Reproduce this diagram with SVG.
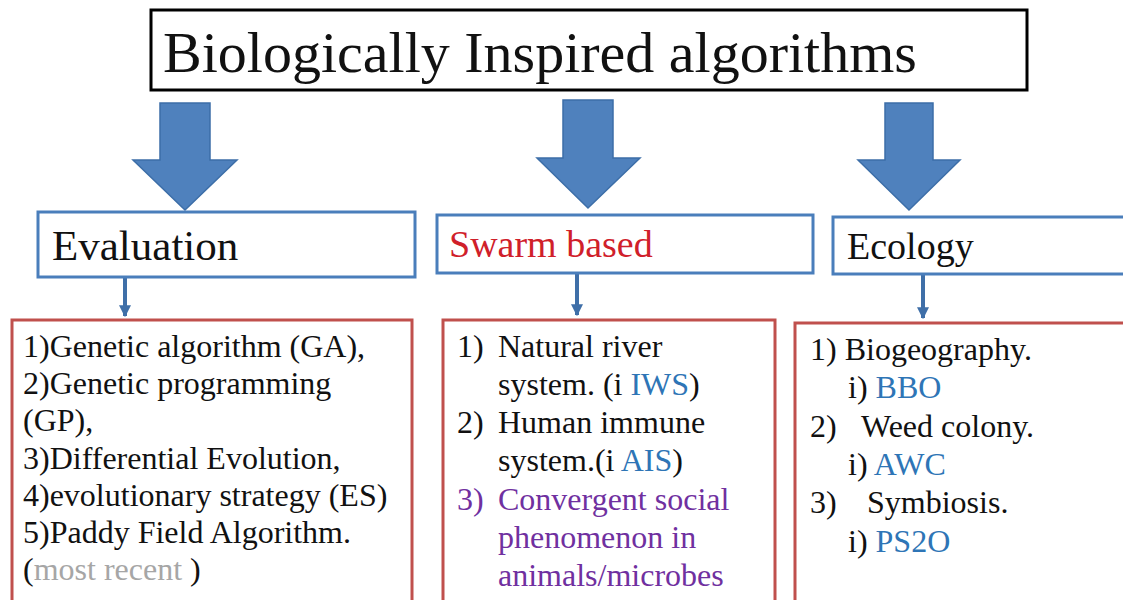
<svg xmlns="http://www.w3.org/2000/svg" width="1123" height="600" viewBox="0 0 1123 600">
  <style>
    .title { font-size: 58px; }
    .head { font-size: 38px; }
    .item { font-size: 32px; }
    .big-arrow { fill: #4f81bd; stroke: #3c6ea8; stroke-width: 1.5; }
    .cat { fill: #fff; stroke: #4a7ebb; stroke-width: 3; }
    .list { fill: #fff; stroke: #c0504d; stroke-width: 3; }
    .link { stroke: #3f6fa8; stroke-width: 4; fill: none; }
    .ink { fill: #111; }
    .blue { fill: #2e75b6; }
    .purple { fill: #7030a0; }
    .grey { fill: #a6a6a6; }
    .red { fill: #d0202a; }
  </style>
  <defs>
    <marker id="tip" viewBox="0 0 10 10" refX="9" refY="5" markerWidth="3" markerHeight="3" orient="auto" markerUnits="strokeWidth">
      <path d="M0,0 L10,5 L0,10 z" fill="#3f6fa8"/>
    </marker>
  </defs>
  <rect width="1123" height="600" fill="#fff"/>

  <g font-family="Liberation Serif, Tinos, Times New Roman, DejaVu Serif, serif" fill="#111">
  <!-- root -->
  <g id="root">
    <rect x="151" y="10" width="876" height="80" fill="#fff" stroke="#000" stroke-width="3"/>
    <text class="title" x="163" y="72">Biologically Inspired algorithms</text>
  </g>

  <!-- connectors -->
  <g id="connectors">
    <path class="big-arrow" d="M160,103 H210 V160 H237 L185,210 L133,160 H160 Z"/>
    <path class="big-arrow" d="M563,100 H613 V158 H640 L588,208 L537,158 H563 Z"/>
    <path class="big-arrow" d="M885,103 H933 V160 H960 L909,210 L858,160 H885 Z"/>
    <line class="link" x1="125" y1="278" x2="125" y2="316" marker-end="url(#tip)"/>
    <line class="link" x1="577" y1="274" x2="577" y2="315" marker-end="url(#tip)"/>
    <line class="link" x1="923" y1="275" x2="923" y2="318" marker-end="url(#tip)"/>
  </g>

  <!-- category: Evaluation -->
  <g id="evaluation">
    <rect class="cat" x="38" y="212" width="377" height="65"/>
    <text class="head" x="52" y="260" style="font-size:43px">Evaluation</text>
  </g>

  <!-- category: Swarm based -->
  <g id="swarm">
    <rect class="cat" x="437" y="215" width="376" height="58"/>
    <text class="head red" x="449" y="257">Swarm based</text>
  </g>

  <!-- category: Ecology -->
  <g id="ecology">
    <rect class="cat" x="833" y="217" width="300" height="57"/>
    <text class="head" x="847" y="259">Ecology</text>
  </g>

  <!-- list: Evaluation -->
  <g id="evaluation-list">
    <rect class="list" x="12" y="320" width="400" height="300"/>
    <text class="item" x="23" y="357">1)Genetic algorithm (GA),</text>
    <text class="item" x="23" y="394">2)Genetic programming</text>
    <text class="item" x="23" y="431">(GP),</text>
    <text class="item" x="23" y="469">3)Differential Evolution,</text>
    <text class="item" x="23" y="506">4)evolutionary strategy (ES)</text>
    <text class="item" x="23" y="543">5)Paddy Field Algorithm.</text>
    <text class="item" x="23" y="580">(<tspan class="grey">most recent </tspan>)</text>
  </g>

  <!-- list: Swarm based -->
  <g id="swarm-list">
    <rect class="list" x="443" y="320" width="332" height="300"/>
    <text class="item" x="457" y="357">1)</text>
    <text class="item" x="498" y="357">Natural river</text>
    <text class="item" x="498" y="395">system. (i <tspan class="blue">IWS</tspan>)</text>
    <text class="item" x="457" y="433">2)</text>
    <text class="item" x="498" y="433">Human immune</text>
    <text class="item" x="498" y="471">system.(i <tspan class="blue">AIS</tspan>)</text>
    <text class="item purple" x="457" y="510">3)</text>
    <text class="item purple" x="498" y="510">Convergent social</text>
    <text class="item purple" x="498" y="548">phenomenon in</text>
    <text class="item purple" x="498" y="586">animals/microbes</text>
  </g>

  <!-- list: Ecology -->
  <g id="ecology-list">
    <rect class="list" x="795" y="323" width="340" height="300"/>
    <text class="item" x="810" y="360">1) Biogeography.</text>
    <text class="item" x="848" y="398">i) <tspan class="blue">BBO</tspan></text>
    <text class="item" x="810" y="437">2)</text>
    <text class="item" x="861" y="437">Weed colony.</text>
    <text class="item" x="848" y="475">i) <tspan class="blue">AWC</tspan></text>
    <text class="item" x="810" y="513">3)</text>
    <text class="item" x="867" y="513">Symbiosis.</text>
    <text class="item" x="848" y="552">i) <tspan class="blue">PS2O</tspan></text>
  </g>
  </g>
</svg>
